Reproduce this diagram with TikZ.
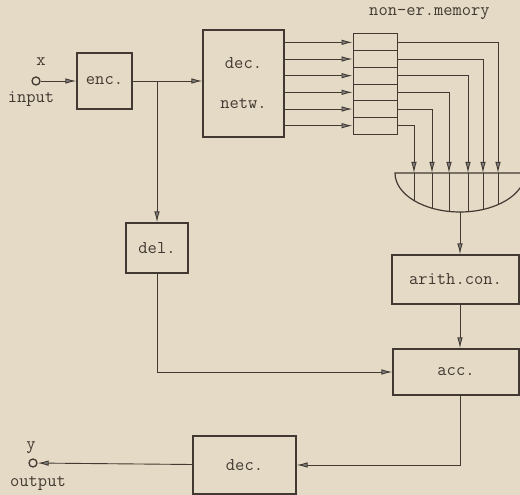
\documentclass[tikz,border=0pt]{standalone}
\usetikzlibrary{arrows.meta, positioning}
\definecolor{paper}{RGB}{229,218,198}
\definecolor{ink}{RGB}{66,58,50}

\begin{document}
\begin{tikzpicture}[x=1pt, y=1pt, ink, line width=0.9pt,
    every node/.style={font=\fontsize{18}{22}\selectfont\ttfamily},
    block/.style={rectangle, draw, line width=1.2pt, inner sep=0pt},
    cell/.style={rectangle, draw, line width=1pt, minimum width=44pt, minimum height=16.67pt, inner sep=0pt},
    port/.style={circle, draw, line width=1.3pt, minimum size=8pt, inner sep=0pt},
    arr/.style={-{Latex[length=11pt, width=5.5pt, fill=gray]}}]
    \fill[paper] (0,0) rectangle (520,495);
    \useasboundingbox (0,0) rectangle (520,495);

    \node (in) [port] at (36,414) {};
    \node (xlabel) at (41,433) {x};
    \node (inlabel) at (31,396) {input};
    \node (enc) [block, minimum width=55pt, minimum height=56pt] at (104.5,414) {enc.};
    \node (dn) [block, minimum width=81pt, minimum height=107pt, align=center] at (243.5,411.5) {dec.\\[18pt]netw.};
    \node (del) [block, minimum width=62pt, minimum height=50pt] at (157,247) {del.};
    \node (arith) [block, minimum width=127pt, minimum height=49pt] at (455.5,215.5) {arith.con.};
    \node (acc) [block, minimum width=126pt, minimum height=46pt] at (456,123) {acc.};
    \node (dec) [block, minimum width=103pt, minimum height=58pt] at (244.5,30) {dec.};
    \node (out) [port] at (33,32) {};
    \node (ylabel) at (31,47) {y};
    \node (outlabel) at (38,11) {output};

    % non-erasable memory, one cell per line
    \node (memlabel) at (429.5,481) {non-er.memory};
    \foreach \i/\xo in {1/498,2/483,3/468,4/449,5/432,6/414} {
        \node (mem\i) [cell] at (375,{469.33-16.67*\i}) {};
        \coordinate (top\i) at (\xo,322);
        \draw[arr] (dn.east |- mem\i) -- (mem\i.west);
        \draw[arr] (mem\i.east) -| (top\i);
    }

    % combining half disk
    \coordinate (comb) at (460,283);
    \draw[line width=1.2pt] (395,322) -- (525,322) arc[start angle=0, end angle=-180, x radius=65pt, y radius=39pt] -- cycle;
    \begin{scope}
        \clip (395,322) -- (525,322) arc[start angle=0, end angle=-180, x radius=65pt, y radius=39pt] -- cycle;
        \foreach \i in {1,...,6}
            \draw (top\i) -- ++(0,-50);
    \end{scope}

    \draw[arr] (in) -- (enc);
    \draw[arr] (enc) -- (dn.west |- enc);
    \draw[arr] (enc.east -| del) -- (del);
    \draw[arr] (comb) -- (comb |- arith.north);
    \draw[arr] (arith.south -| comb) -- (acc.north -| comb);
    \draw[arr] (del) |- (acc);
    \draw[arr] (acc.south -| comb) |- (dec);
    \draw[arr] (dec) -- (out);
\end{tikzpicture}
\end{document}
